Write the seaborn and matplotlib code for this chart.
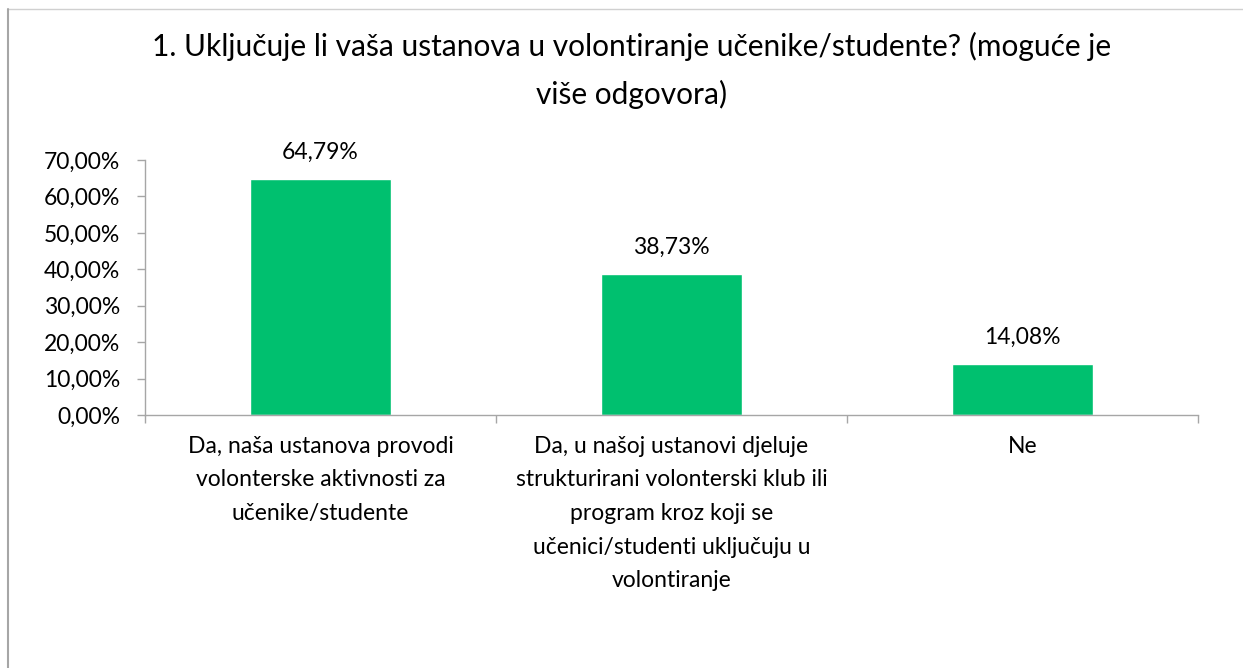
import matplotlib
matplotlib.use("Agg")
import matplotlib.pyplot as plt
import seaborn as sns
import pandas as pd
from matplotlib.lines import Line2D
from matplotlib.ticker import FuncFormatter, FixedLocator

categories = [
    "Da, naša ustanova provodi\nvolonterske aktivnosti za\nučenike/studente",
    "Da, u našoj ustanovi djeluje\nstrukturirani volonterski klub ili\nprogram kroz koji se\nučenici/studenti uključuju u\nvolontiranje",
    "Ne",
]
values = [64.79, 38.73, 14.08]
title = "1. Uključuje li vaša ustanova u volontiranje učenike/studente? (moguće je\nviše odgovora)"

df = pd.DataFrame({"odgovor": categories, "postotak": values})

sns.set_theme(style="white")
plt.rcParams["font.family"] = ["Lato", "DejaVu Sans"]

fig = plt.figure(figsize=(12.43, 6.68), dpi=100)
ax = fig.add_axes([0.1167, 0.3787, 0.847, 0.3818])

sns.barplot(data=df, x="odgovor", y="postotak", color="#00c06f",
            width=0.4, saturation=1, ax=ax)

ax.set_ylim(0, 70)
ax.set_xlim(-0.5, 2.5)
ax.yaxis.set_major_locator(FixedLocator(range(0, 71, 10)))
ax.yaxis.set_major_formatter(FuncFormatter(lambda v, p: f"{v:.2f}%".replace(".", ",")))

for i, v in enumerate(values):
    ax.annotate(f"{v:.2f}%".replace(".", ","), (i, v), xytext=(0, 19),
                textcoords="offset points", ha="center", va="center",
                fontsize=16.5, color="#000000")

# category boundaries as tick marks, labels centered under bars
ax.set_xticks([-0.5, 0.5, 1.5, 2.5], minor=True)
ax.set_xticks([0, 1, 2])
ax.set_xticklabels(categories, fontsize=16.5, color="#000000", linespacing=1.74)
ax.tick_params(axis="x", which="major", length=0, pad=15)
ax.tick_params(axis="x", which="minor", length=6, width=1, color="#a6a6a6", direction="out", bottom=True)
ax.tick_params(axis="y", length=6, width=1, color="#a6a6a6", direction="out", left=True,
               labelsize=16.5, labelcolor="#000000", pad=12)

ax.set_xlabel("")
ax.set_ylabel("")
for s in ["top", "right"]:
    ax.spines[s].set_visible(False)
for s in ["left", "bottom"]:
    ax.spines[s].set_color("#a6a6a6")
    ax.spines[s].set_linewidth(1)

fig.text(0.508, 0.952, title, ha="center", va="top", fontsize=21.5,
         color="#000000", linespacing=1.76)

# chart area frame (only top and left visible in the crop)
fig.add_artist(Line2D([8 / 1243, 1], [1 - 9 / 668] * 2, color="#d0d0d0", lw=1))
fig.add_artist(Line2D([8 / 1243] * 2, [0, 1 - 9 / 668], color="#a6a6a6", lw=1.5))

fig.savefig("out.png", dpi=100)
